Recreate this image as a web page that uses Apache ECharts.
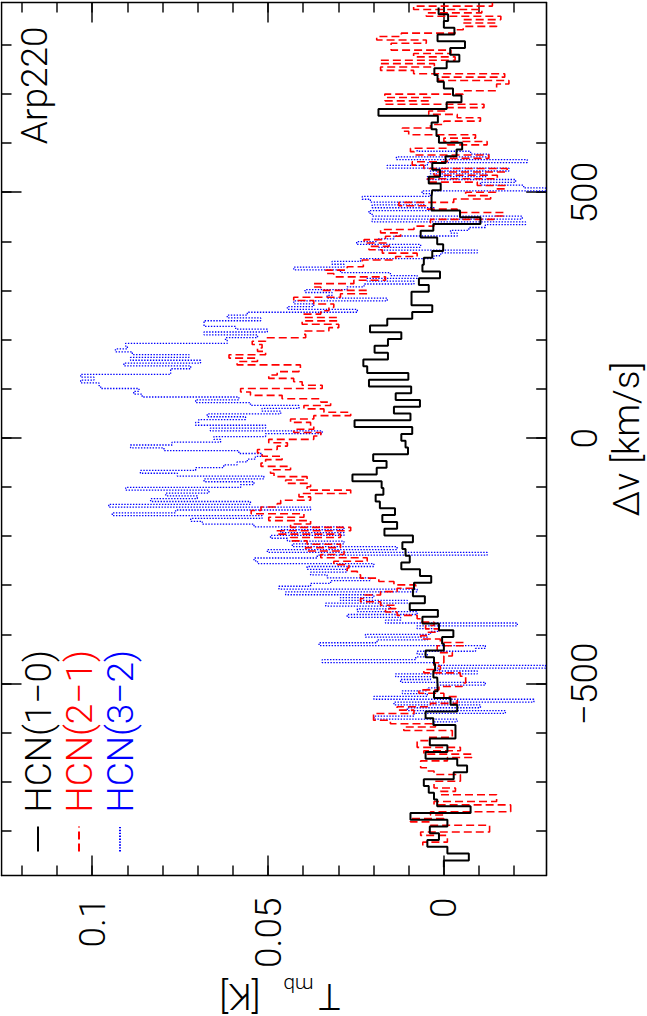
<!DOCTYPE html>
<html>
<head>
<meta charset="utf-8">
<title>Arp220 HCN</title>
<script src="https://cdn.jsdelivr.net/npm/echarts@6/dist/echarts.min.js"></script>
<style>
  html, body { margin: 0; padding: 0; background: #fff; overflow: hidden; }
  /* chart is drawn upright (1016x647) and turned a quarter turn to the left */
  #chart {
    position: absolute;
    width: 1016px;
    height: 647px;
    left: -184.5px;
    top: 184.5px;
    transform: rotate(-90deg);
  }
</style>
</head>
<body>
<div id="chart"></div>
<script>
// axis ranges
const velMin = -890, velMax = 887;
const tMin = -0.0291, tMax = 0.1258;

// ticks and labels
const velMinorTicks = [-800, -700, -600, -500, -400, -300, -200, -100, 0, 100, 200, 300, 400, 500, 600, 700, 800];
const velMajorTicks = [-500, 0, 500];
const tMinorTicks = [-0.02, -0.01, 0, 0.01, 0.02, 0.03, 0.04, 0.05, 0.06, 0.07, 0.08, 0.09, 0.1, 0.11, 0.12];
const tMajorTicks = [0, 0.05, 0.1];

const seriesNames = ['HCN(1\u22120)', 'HCN(2\u22121)', 'HCN(3\u22122)'];
const sourceName = 'Arp220';

// first channel edge and channel width (km/s)
const hcn10Start = -873, hcn10Width = 13.78;
const hcn21Start = -829, hcn21Width = 6.89;
const hcn32Start = -583, hcn32Width = 5.75;

// T_mb per channel, in mK
const hcn10 = [
  0.0, -7.1, -1.0, 4.7, 1.4, 4.0, -1.0, 9.5, -7.6, 1.9, 2.8, 4.3, 5.7, -2.8, -6.6, -3.8, 5.2, -1.0, 4.0,
  -3.3, -3.3, 3.0, 5.2, -3.8, -1.9, 2.8, 1.8, 1.9, 3.0, 2.5, 2.8, 5.2, 0.0, 0.5,
  -2.7, 1.4, 6.1, 1.7, 9.7, 5.4, 8.8, 8.5, 3.6, 6.8, 12.1, 9.7, 10.9, 11.8, 8.8, 16.9,
  13.3, 17.5, 13.9, 18.2, 19.4, 17.2, 17.7, 26.0, 19.1, 16.3, 20.1, 10.2, 10.9, 12.1, 9.0, 25.4,
  9.5, 14.2, 6.8, 13.7, 9.3, 21.3, 10.1, 21.8, 22.9, 15.9, 19.7, 15.9, 12.1, 21.0, 16.1,
  9.0, 3.3, 9.2, 9.2, 4.3, 7.1, 1.1, 6.1, 5.7, 3.3, 0.2, 1.9, 6.6, 3.0, -10.4,
  -4.6, 3.5, 3.5, 3.3, 0.9, 4.3, 1.1, 3.3, -0.5, -3.6, -5.2, 1.4, 2.1, 3.5, 1.7, 18.6,
  -0.8, -5.0, -2.6, 0.0, 1.8, 2.7, -0.8, -4.4, -1.8, -6.0, 1.8, -3.0, 0.0, -1.2, 1.5
];
const hcn21 = [
  6, -1, -1, 6.6, -13, -13, 3.8, 9.5, 0, 3.8, -19, -19, 2.8, -15, -15, 1, -3.3, 2.8, 2.8, -4.7, -4.7, 2.8, 4.7, 6.6, 6.6, -1, -8, 5.7, -4.7, 7.6, 7.6,
  4.3, -2.4, -2.4, 11.4, 2.4, 15.2, 20, 20, 8.5, 13.3, 3.8, -3.8, -3.8, 0, 7.1, 1.4, -5.2, -6.2, -6.2, -4.7, 5.7, 1, 2.8, 0, 0, -2.4, 1.9, 1.9, -5.7, 1, 6.6,
  4.7, 1.4, 5.2, 2.8, 6.6, 7.6, 13.3, 16.6, 13.7, 18, 23.7, 22.7, 18, 13.3, 8, 14.2, 18.5, 23.7, 24.6, 27.5, 27, 31.3, 21.8, 35, 28.4, 39.3, 29.4, 38.9, 43.6, 29.4, 47.4,
  26.5, 43.6, 37.9, 49.8, 39.8, 54.8, 52, 47.4, 46.4, 37.9, 41.2, 26.5, 38.9, 37.9, 45, 38.9, 48.3, 49.3, 43.6, 52, 50.7, 46, 51.7, 53, 47.4, 44.5, 49.8, 37, 35, 42.7, 37,
  37.9, 43.6, 37, 26.5, 34.1, 39.8, 32.2, 35, 46, 55, 57.8, 34.6, 40.3, 42.7, 49.8, 47.4, 41.2, 40.8, 58.8, 53, 61.1, 50.7, 53, 51.7, 54.5, 50.7, 39.3, 39.8, 32.7, 29.9, 40.3,
  30.3, 39.8, 35, 32.7, 31.3, 37, 42.7, 29.4, 21.8, 35, 37, 25.6, 16.6, 31.3, 33.6, 27.5, 22.9, 23.2, 13.7, 7.6, 17.5, 21.3, 15.6, 22.7, 16.6, 12.3, 18, 8.5, 2.8, 3.8, -14.2,
  -17, -3.8, 4.7, 12.8, -2.8, -13.3, -6.2, -14.7, -17.5, -9.5, 4.7, -15.2, 2.8, -18, 5.7, 9, -1, -12.8, 8.5, 9.5, -1, -12.3, 0, -9, 10, 11.8, 3.8, 0, -10.4, -3.8, 4.3,
  -0.8, -11.4, 16.8, 3.9, 16.8, -5.5, -15, -15, -18.5, 1.5, -17.3, 8.6, 18, 2.7, 18, -3.2, 8.6, -2, 15, 15, 5, 19.1, 12.1, -3.2, -5.5, -15, -5.5, -16.2, 5, -10.8, 8.6, -13.8
];
const hcn32 = [
  2.8, -3.8, 19.9, 8.5, -17.5, 10.4, -10.4, 14.2, -25.6, 19.9, 4.7, 11.8, 4.7, 1.9, -11.8, 12.3, 3.8, 13.7, -9.5, 1.9, -28.9, 1.4, 34.6, 8, 4.7, 7.6, -9, -11.8, 35.5, 19, 4.7,
  22.3, 3.8, 1.4, 7.6, -20.9, 16.6, 12.3, 27.5, 7.6, 24.6, 15.2, 33.6, 10.4, 29.4, 19.9, 45, 7.6, 46.9, 37.9, 32.2, 20.9, 33.2, 37.9, 27.5, 38.9, 19.9, 53, 54, 36, -12.3, 50.2, 13.3, 43.1, 28.4, 44.5, 49.3, 28.4,
  46.4, 28.4, 54, 68.7, 72, 51.7, 94.3, 76.3, 37.9, 95.3, 55, 83.4, 70.1, 79.1, 66.8, 90.5, 57.8, 54, 68.2, 51.2, 75.8, 86.3, 70.6, 62.6, 58.8, 55.9, 53.6, 51.7, 58.3, 79.6, 89.1, 77.3, 63.5, 65.4, 50.7, 34.6, 66.4,
  50.7, 70.6, 69.7, 56.4, 67.3, 46.4, 51.7, 41.2, 55, 70.6, 58.3, 85.8, 88.2, 86.7, 97.6, 98.1, 103.3, 99.5, 103.3, 77.7, 77.7, 72, 91, 69.2, 89.1, 72.5, 88.6, 93.4, 90, 90.5, 61.6, 62.1, 53, 68.2, 50.2, 59.2, 68.2,
  68.2, 52.1, 61.6, 55.9, 24.6, 44.5, 37, 42.7, 16.1, 33.2, 31.8, 39.5, 27.5, 22.7, 8.5, 21.8, 7.6, 15.2, 29.4, 42.7, 28.4, 31.8, 23.7, 2.8, 0.9, -9.5, 18.5, 6.6, 24.8, 19, 14.2, -3.8, -1.9, -7.1, -11.8, -23.2, 20.4,
  -22.3, 20.4, 21.3, 2.8, 20.4, 5.7, 20.9, 23.2, 3.8, 6.2, -28.9, -22.7, -10.4, -20.4, 4.7, -12.3, 3.8, -18.5, 16.1, 4.7, -23.7, 13.5, -12.8, -7.6, 7.6
];

// histogram: one point per channel edge, plus the closing edge
function toSteps(start, width, mk) {
  const pts = mk.map((t, i) => [start + i * width, t / 1000]);
  pts.push([start + mk.length * width, mk[mk.length - 1] / 1000]);
  return pts;
}

const FONT = 'Roboto, "Liberation Sans", sans-serif';
const txt = { fontFamily: FONT, fontWeight: 300, fontSize: 37, color: '#000' };
const frame = { color: '#000', width: 1.6 };

// one axis draws the frame side + short ticks, a second one the long ticks (+ labels)
function makeAxis(kind, position, major, labels) {
  const isVel = kind === 'vel';
  const ax = {
    type: 'value',
    position: position,
    min: isVel ? velMin : tMin,
    max: isVel ? velMax : tMax,
    splitLine: { show: false },
    axisLine: { show: !major, onZero: false, lineStyle: frame },
    axisTick: {
      show: true,
      inside: true,
      length: major ? 20 : 10,
      lineStyle: { color: '#000', width: 1.4 },
      customValues: isVel ? (major ? velMajorTicks : velMinorTicks) : (major ? tMajorTicks : tMinorTicks)
    },
    axisLabel: { show: false }
  };
  if (labels) {
    ax.axisLabel = Object.assign({
      show: true,
      customValues: isVel ? velMajorTicks : tMajorTicks,
      margin: isVel ? 20 : 22,
      formatter: isVel ? (v) => (v < 0 ? '\u2212' + Math.abs(v) : String(v)) : (v) => String(v)
    }, txt);
  }
  return ax;
}

const velAxis = makeAxis('vel', 'bottom', true, true);
velAxis.name = '\u0394v [km/s]';
velAxis.nameLocation = 'middle';
velAxis.nameGap = 59;
velAxis.nameTextStyle = txt;

const myChart = echarts.init(document.getElementById('chart'), null, { renderer: 'svg' });

const option = {
  animation: false,
  backgroundColor: '#fff',
  grid: { left: 141, right: 2, top: 1, bottom: 101.3, containLabel: false, outerBoundsMode: 'none' },
  title: {
    text: sourceName,
    right: 26,
    top: 15,
    padding: 0,
    textStyle: txt
  },
  legend: {
    orient: 'vertical',
    left: 164,
    top: 19,
    padding: 0,
    itemWidth: 25,
    itemHeight: 1,
    itemGap: 4,
    selectedMode: false,
    itemStyle: { opacity: 0 },
    textStyle: Object.assign({ padding: [0, 0, 0, 9] }, txt),
    data: [
      { name: seriesNames[0], textStyle: { color: '#000' } },
      { name: seriesNames[1], textStyle: { color: '#ff0000' } },
      { name: seriesNames[2], textStyle: { color: '#0000ff' } }
    ]
  },
  xAxis: [
    makeAxis('vel', 'bottom', false, false),
    velAxis,
    makeAxis('vel', 'top', false, false),
    makeAxis('vel', 'top', true, false)
  ],
  yAxis: [
    makeAxis('t', 'left', false, false),
    makeAxis('t', 'left', true, true),
    makeAxis('t', 'right', false, false),
    makeAxis('t', 'right', true, false)
  ],
  graphic: [
    {
      // T_mb [K], written bottom to top beside the left axis
      type: 'group',
      x: 33,
      y: 340,
      rotation: Math.PI / 2,
      children: [
        { type: 'text', x: 0, y: -13, style: { text: 'T', fill: '#000', font: '300 37px ' + FONT, align: 'left', verticalAlign: 'middle' } },
        { type: 'text', x: 27, y: -1, style: { text: 'mb', fill: '#000', font: '300 21px ' + FONT, align: 'left', verticalAlign: 'middle' } },
        { type: 'text', x: 80, y: -13, style: { text: '[K]', fill: '#000', font: '300 37px ' + FONT, align: 'left', verticalAlign: 'middle' } }
      ]
    }
  ],
  series: [
    {
      name: seriesNames[0],
      type: 'line',
      step: 'end',
      symbol: 'none',
      z: 4,
      data: toSteps(hcn10Start, hcn10Width, hcn10),
      lineStyle: { color: '#000', width: 2 },
      itemStyle: { color: '#000' }
    },
    {
      name: seriesNames[1],
      type: 'line',
      step: 'end',
      symbol: 'none',
      z: 3,
      data: toSteps(hcn21Start, hcn21Width, hcn21),
      lineStyle: { color: '#ff0000', width: 1.6, type: [8, 4] },
      itemStyle: { color: '#ff0000' }
    },
    {
      name: seriesNames[2],
      type: 'line',
      step: 'end',
      symbol: 'none',
      z: 2,
      data: toSteps(hcn32Start, hcn32Width, hcn32),
      lineStyle: { color: '#0000ff', width: 1.3, type: [1.4, 1.5] },
      itemStyle: { color: '#0000ff' }
    }
  ]
};

myChart.setOption(option);
</script>
</body>
</html>
